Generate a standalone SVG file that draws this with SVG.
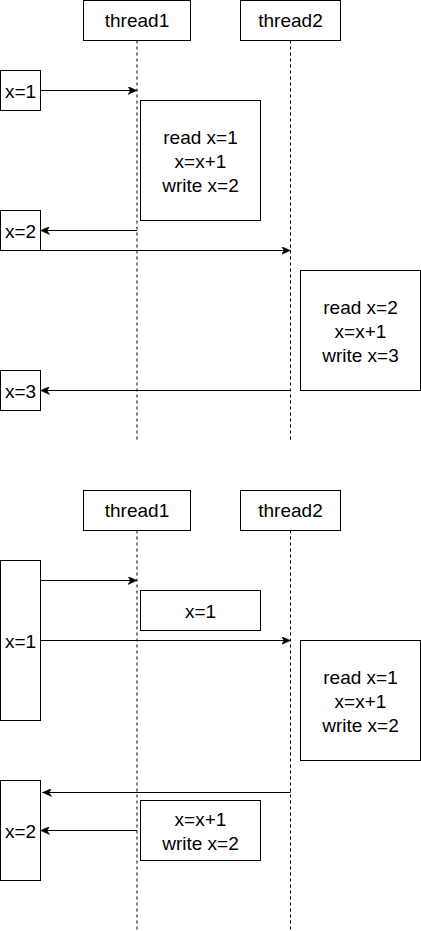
<svg xmlns="http://www.w3.org/2000/svg" width="421" height="931" viewBox="0 0 421 931">
<style>
.box{fill:#fff;stroke:#000;stroke-width:1}
.life{stroke:#000;stroke-width:1;stroke-dasharray:3 3;fill:none}
.msg{stroke:#000;stroke-width:1;fill:none;marker-end:url(#ah)}
text{font-family:"Liberation Sans",Arial,sans-serif;font-size:19px;fill:#000;text-anchor:middle}
</style>
<defs>
<marker id="ah" viewBox="0 0 10 8" refX="9" refY="4" markerWidth="10" markerHeight="8" markerUnits="userSpaceOnUse" orient="auto">
<path d="M0,0 L9,4 L0,8 L2.5,4 Z" fill="#000" stroke="#000" stroke-width="0.5"/>
</marker>
</defs>
<rect width="421" height="931" fill="#fff"/>
<g id="lifelines">
<line class="life" x1="137" y1="40.5" x2="137" y2="440"/>
<line class="life" x1="290.5" y1="40.5" x2="290.5" y2="440"/>
<line class="life" x1="137" y1="530.5" x2="137" y2="931"/>
<line class="life" x1="290.5" y1="530.5" x2="290.5" y2="931"/>
</g>
<g id="connectors">
<line class="msg" x1="40.5" y1="90.5" x2="137" y2="90.5"/>
<line class="msg" x1="137" y1="230.5" x2="40.5" y2="230.5"/>
<line class="msg" x1="40.5" y1="250.5" x2="290.5" y2="250.5"/>
<line class="msg" x1="290.5" y1="390.5" x2="40.5" y2="390.5"/>
<line class="msg" x1="40.5" y1="580.5" x2="137" y2="580.5"/>
<line class="msg" x1="40.5" y1="640.5" x2="290.5" y2="640.5"/>
<line class="msg" x1="290.5" y1="792.5" x2="42.5" y2="792.5"/>
<line class="msg" x1="137" y1="830.5" x2="40.5" y2="830.5"/>
</g>
<g id="d1-thread1"><rect class="box" x="83.5" y="0.5" width="107" height="40"/><text x="137" y="27">thread1</text></g>
<g id="d1-thread2"><rect class="box" x="240.5" y="0.5" width="100" height="40"/><text x="290.5" y="27">thread2</text></g>
<g id="d1-x1"><rect class="box" x="0.5" y="70.5" width="40" height="40"/><text x="20.5" y="97.5">x=1</text></g>
<g id="d1-op1"><rect class="box" x="140.5" y="100.5" width="120" height="120"/><text x="200.5" y="143.5">read x=1</text><text x="200.5" y="167.5">x=x+1</text><text x="200.5" y="191.5">write x=2</text></g>
<g id="d1-x2"><rect class="box" x="0.5" y="210.5" width="40" height="40"/><text x="20.5" y="237.5">x=2</text></g>
<g id="d1-op2"><rect class="box" x="300.5" y="270.5" width="120" height="120"/><text x="360.5" y="313.5">read x=2</text><text x="360.5" y="337.5">x=x+1</text><text x="360.5" y="361.5">write x=3</text></g>
<g id="d1-x3"><rect class="box" x="0.5" y="370.5" width="40" height="40"/><text x="20.5" y="397.5">x=3</text></g>
<g id="d2-thread1"><rect class="box" x="83.5" y="490.5" width="107" height="40"/><text x="137" y="517">thread1</text></g>
<g id="d2-thread2"><rect class="box" x="240.5" y="490.5" width="100" height="40"/><text x="290.5" y="517">thread2</text></g>
<g id="d2-x1"><rect class="box" x="0.5" y="560.5" width="40" height="160"/><text x="20.5" y="647.5">x=1</text></g>
<g id="d2-read1"><rect class="box" x="140.5" y="590.5" width="120" height="40"/><text x="200.5" y="617.5">x=1</text></g>
<g id="d2-op2"><rect class="box" x="300.5" y="640.5" width="120" height="120"/><text x="360.5" y="683.5">read x=1</text><text x="360.5" y="707.5">x=x+1</text><text x="360.5" y="731.5">write x=2</text></g>
<g id="d2-x2"><rect class="box" x="0.5" y="780.5" width="40" height="100"/><text x="20.5" y="837.5">x=2</text></g>
<g id="d2-op1"><rect class="box" x="140.5" y="800.5" width="120" height="60"/><text x="200.5" y="825.5">x=x+1</text><text x="200.5" y="849.5">write x=2</text></g>
</svg>
